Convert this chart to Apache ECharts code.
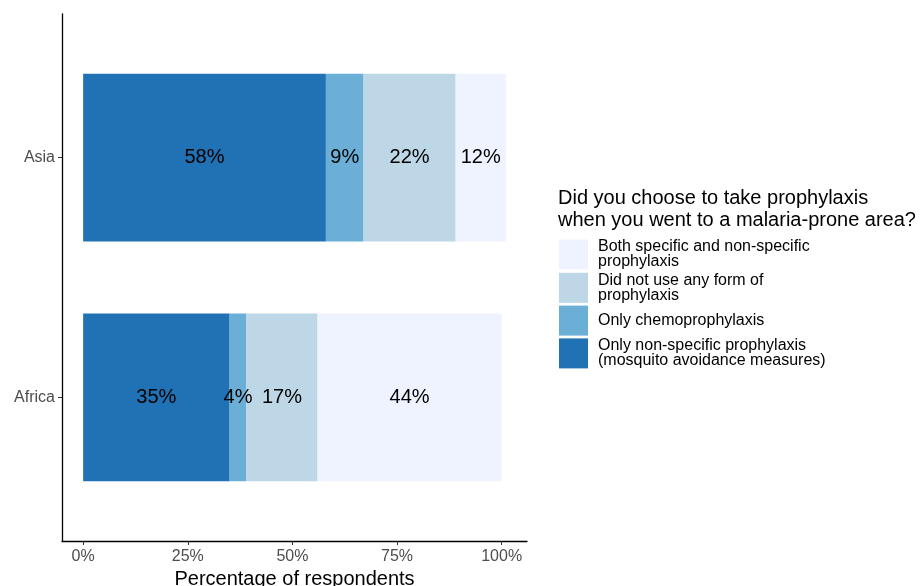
<!DOCTYPE html>
<html>
<head>
<meta charset="utf-8">
<script src="https://cdn.jsdelivr.net/npm/echarts@6/dist/echarts.min.js"></script>
<style>html,body{margin:0;padding:0;background:#fff;}#c{width:920px;height:586px;}</style>
</head>
<body>
<div id="c"></div>
<script>
const categories = ['Africa', 'Asia'];
const seriesNames = [
  'Only non-specific prophylaxis (mosquito avoidance measures)',
  'Only chemoprophylaxis',
  'Did not use any form of prophylaxis',
  'Both specific and non-specific prophylaxis'
];
const legendLabels = {
  'Both specific and non-specific prophylaxis': 'Both specific and non-specific\nprophylaxis',
  'Did not use any form of prophylaxis': 'Did not use any form of\nprophylaxis',
  'Only chemoprophylaxis': 'Only chemoprophylaxis',
  'Only non-specific prophylaxis (mosquito avoidance measures)': 'Only non-specific prophylaxis\n(mosquito avoidance measures)'
};
const nonSpecific = [35, 58];
const chemo = [4, 9];
const none = [17, 22];
const both = [44, 12];
const colors = ['#2171b5', '#6baed6', '#bdd7e7', '#eff3ff'];
const tickValues = [0, 25, 50, 75, 100];
const values = [nonSpecific, chemo, none, both];

const FONT = 'Liberation Sans, Arial, Helvetica, sans-serif';
const chart = echarts.init(document.getElementById('c'), null, {renderer: 'canvas'});
const xMin = -5.05, xMax = 106.05;

chart.setOption({
  animation: false,
  textStyle: {fontFamily: FONT},
  title: {
    text: 'Did you choose to take prophylaxis\nwhen you went to a malaria-prone area?',
    left: 558, top: 187, padding: 0,
    textStyle: {fontSize: 20, fontWeight: 'normal', color: '#000', lineHeight: 22, fontFamily: FONT}
  },
  legend: {
    orient: 'vertical', left: 559, top: 239, padding: 0,
    itemWidth: 29, itemHeight: 30, itemGap: 2.3,
    icon: 'rect', selectedMode: false,
    data: [seriesNames[3], seriesNames[2], seriesNames[1], seriesNames[0]],
    formatter: n => legendLabels[n],
    textStyle: {fontSize: 16, lineHeight: 15, color: '#000', fontFamily: FONT, padding: [0, 0, 0, 5]}
  },
  grid: [
    {left: 62, width: 465, top: 14, bottom: 45, containLabel: false, outerBoundsMode: 'none'},
    {left: 62, width: 465, top: 37.9, bottom: 68.9, containLabel: false, outerBoundsMode: 'none'}
  ],
  xAxis: [
    {
      gridIndex: 0, type: 'value', min: xMin, max: xMax,
      axisLine: {show: true, onZero: false, lineStyle: {color: '#000', width: 1.3}},
      axisTick: {show: true, length: 4, lineStyle: {color: '#333'}, customValues: tickValues},
      axisLabel: {customValues: tickValues, formatter: '{value}%', fontSize: 16, color: '#4d4d4d', margin: 8, fontFamily: FONT},
      splitLine: {show: false},
      name: 'Percentage of respondents', nameLocation: 'middle', nameGap: 28,
      nameTextStyle: {fontSize: 20, color: '#000', fontFamily: FONT}
    },
    {
      gridIndex: 1, type: 'value', min: xMin, max: xMax, show: false
    }
  ],
  yAxis: [
    {
      gridIndex: 0, type: 'value', min: 0, max: 1,
      axisLine: {show: true, onZero: false, lineStyle: {color: '#000', width: 1.3}},
      axisTick: {show: false}, axisLabel: {show: false}, splitLine: {show: false}
    },
    {
      gridIndex: 1, type: 'category', data: categories,
      axisLine: {show: false, onZero: false},
      axisTick: {show: true, alignWithLabel: true, length: 4, lineStyle: {color: '#333'}},
      axisLabel: {fontSize: 16, color: '#4d4d4d', margin: 7, fontFamily: FONT},
      splitLine: {show: false}
    }
  ],
  series: seriesNames.map((n, i) => ({
    name: n, type: 'bar', stack: 'total', xAxisIndex: 1, yAxisIndex: 1,
    barWidth: '70%',
    itemStyle: {color: colors[i]},
    label: {show: true, position: 'inside', formatter: p => p.value + '%', fontSize: 20, color: '#000', fontFamily: FONT},
    data: values[i]
  }))
});
</script>
</body>
</html>
